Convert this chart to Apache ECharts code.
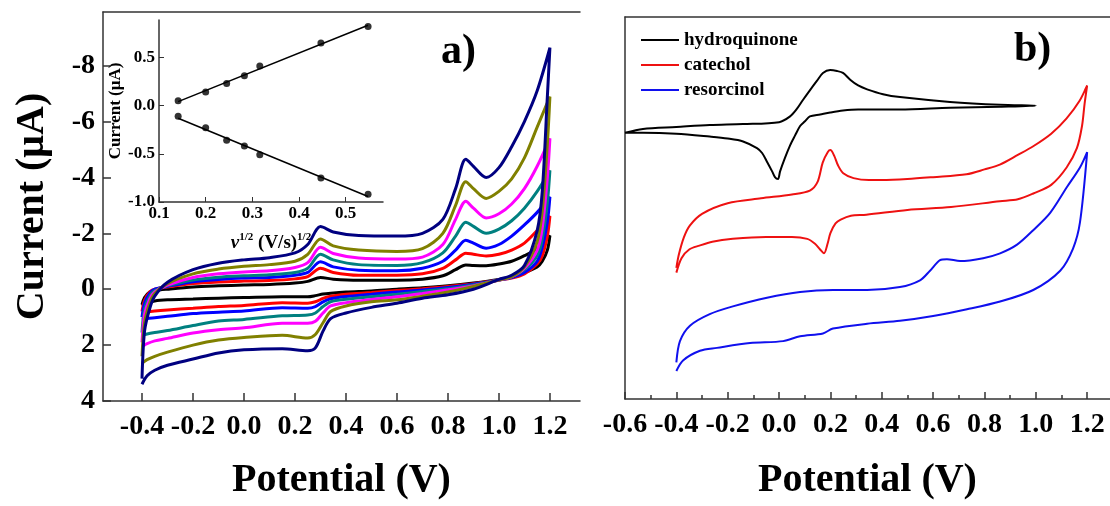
<!DOCTYPE html>
<html><head><meta charset="utf-8">
<script src="https://cdn.jsdelivr.net/npm/echarts@6/dist/echarts.min.js"></script>
<style>html,body{margin:0;padding:0;background:#fff}#c{width:1110px;height:506px}</style>
</head><body><div id="c"></div>
<script>
const FONT = '"Liberation Serif","Times New Roman",serif';

// ---------- Panel a: CVs at different scan rates ----------
const aTicksX = [-0.4, -0.2, 0.0, 0.2, 0.4, 0.6, 0.8, 1.0, 1.2];
const aTicksY = [-8, -6, -4, -2, 0, 2, 4];
const scanNames = ['20 mV/s', '40 mV/s', '60 mV/s', '80 mV/s', '100 mV/s', '200 mV/s', '300 mV/s'];
const scanColors = ['#000000', '#ff0000', '#0000ff', '#008080', '#ff00ff', '#808000', '#000080'];

const upX = [-0.4, -0.39, -0.37, -0.35, -0.3, -0.2, -0.1, 0.0, 0.1, 0.2, 0.25, 0.3, 0.35, 0.45, 0.6, 0.7, 0.78, 0.83, 0.87, 0.9, 0.95, 1.0, 1.05, 1.1, 1.15, 1.2];
const downX = [1.2, 1.19, 1.17, 1.15, 1.1, 1.05, 1.0, 0.9, 0.8, 0.7, 0.6, 0.5, 0.4, 0.34, 0.31, 0.28, 0.25, 0.15, 0.0, -0.1, -0.2, -0.3, -0.35, -0.38, -0.4];

const upBlack   = [0.55, 0.3, 0.1, 0.05, 0.0, -0.08, -0.12, -0.15, -0.17, -0.22, -0.28, -0.42, -0.36, -0.32, -0.32, -0.36, -0.48, -0.7, -0.87, -0.85, -0.84, -0.9, -1.0, -1.2, -1.45, -1.92];
const upRed     = [0.8, 0.4, 0.1, 0.0, -0.08, -0.2, -0.26, -0.29, -0.31, -0.37, -0.45, -0.75, -0.6, -0.5, -0.5, -0.55, -0.75, -1.05, -1.29, -1.25, -1.19, -1.25, -1.4, -1.65, -2.1, -2.62];
const upBlue    = [1.0, 0.5, 0.15, 0.0, -0.1, -0.27, -0.35, -0.4, -0.42, -0.5, -0.6, -0.98, -0.8, -0.68, -0.66, -0.75, -1.0, -1.4, -1.75, -1.65, -1.47, -1.6, -1.9, -2.3, -2.75, -3.3];
const upTeal    = [1.55, 0.7, 0.25, 0.05, -0.12, -0.33, -0.43, -0.48, -0.52, -0.6, -0.75, -1.25, -1.05, -0.88, -0.85, -0.95, -1.3, -1.9, -2.4, -2.25, -2.0, -2.15, -2.45, -2.9, -3.5, -4.25];
const upMagenta = [1.9, 0.9, 0.35, 0.1, -0.15, -0.42, -0.55, -0.62, -0.66, -0.78, -0.95, -1.5, -1.28, -1.12, -1.08, -1.15, -1.6, -2.5, -3.15, -2.9, -2.55, -2.7, -3.05, -3.6, -4.4, -5.4];
const upOlive   = [2.4, 1.2, 0.5, 0.15, -0.2, -0.55, -0.72, -0.82, -0.88, -1.0, -1.25, -1.8, -1.55, -1.4, -1.35, -1.45, -2.0, -3.0, -3.85, -3.6, -3.25, -3.5, -3.95, -4.7, -5.8, -6.89];
const upNavy    = [3.2, 1.5, 0.7, 0.25, -0.25, -0.7, -0.93, -1.05, -1.13, -1.3, -1.6, -2.24, -2.05, -1.92, -1.9, -2.0, -2.5, -3.6, -4.65, -4.4, -4.0, -4.35, -5.1, -6.0, -7.1, -8.64];

const downBlack   = [-1.92, -1.4, -1.0, -0.8, -0.6, -0.45, -0.35, -0.22, -0.12, -0.05, 0.0, 0.06, 0.1, 0.14, 0.17, 0.23, 0.27, 0.27, 0.3, 0.32, 0.35, 0.38, 0.42, 0.5, 0.6];
const downRed     = [-2.62, -1.9, -1.2, -0.9, -0.55, -0.4, -0.33, -0.2, -0.1, -0.02, 0.05, 0.12, 0.18, 0.25, 0.33, 0.45, 0.5, 0.48, 0.58, 0.62, 0.68, 0.74, 0.78, 0.82, 0.88];
const downBlue    = [-3.3, -2.4, -1.5, -1.0, -0.6, -0.42, -0.33, -0.18, -0.06, 0.03, 0.1, 0.18, 0.26, 0.34, 0.45, 0.62, 0.68, 0.66, 0.78, 0.82, 0.87, 0.97, 1.02, 1.05, 1.1];
const downTeal    = [-4.25, -3.1, -1.8, -1.2, -0.7, -0.45, -0.33, -0.15, -0.02, 0.08, 0.18, 0.27, 0.36, 0.45, 0.62, 0.85, 0.92, 0.95, 1.08, 1.14, 1.3, 1.48, 1.55, 1.6, 1.65];
const downMagenta = [-5.4, -4.0, -2.2, -1.4, -0.75, -0.45, -0.33, -0.12, 0.02, 0.15, 0.27, 0.37, 0.48, 0.6, 0.85, 1.15, 1.22, 1.22, 1.38, 1.45, 1.57, 1.76, 1.85, 1.95, 2.05];
const downOlive   = [-6.89, -5.2, -2.8, -1.7, -0.8, -0.45, -0.33, -0.1, 0.1, 0.25, 0.38, 0.45, 0.6, 0.8, 1.2, 1.62, 1.75, 1.65, 1.73, 1.82, 2.0, 2.25, 2.4, 2.52, 2.65];
const downNavy    = [-8.64, -6.9, -3.5, -2.1, -0.85, -0.5, -0.35, 0.0, 0.2, 0.32, 0.5, 0.65, 0.85, 1.05, 1.5, 2.1, 2.2, 2.13, 2.17, 2.28, 2.5, 2.72, 2.9, 3.1, 3.4];

const upAll = [upBlack, upRed, upBlue, upTeal, upMagenta, upOlive, upNavy];
const downAll = [downBlack, downRed, downBlue, downTeal, downMagenta, downOlive, downNavy];

// ---------- Inset: peak current vs sqrt(scan rate) ----------
const insetX = [0.141, 0.2, 0.245, 0.283, 0.316, 0.447, 0.548];
const insetAnodic = [0.05, 0.14, 0.23, 0.31, 0.41, 0.65, 0.82];
const insetCathodic = [-0.11, -0.23, -0.36, -0.42, -0.51, -0.75, -0.92];
const insetTicksX = [0.1, 0.2, 0.3, 0.4, 0.5];
const insetTicksY = [-1.0, -0.5, 0.0, 0.5];

// ---------- Panel b: three isomers (arbitrary vertical offsets, a.u.) ----------
const bTicksX = [-0.6, -0.4, -0.2, 0.0, 0.2, 0.4, 0.6, 0.8, 1.0, 1.2];
const bMinorX = [-0.5, -0.3, -0.1, 0.1, 0.3, 0.5, 0.7, 0.9, 1.1];

const hqFwdX = [-0.6, -0.53, -0.4, -0.27, -0.14, 0.0, 0.043, 0.07, 0.093, 0.12, 0.148, 0.171, 0.199, 0.226, 0.249, 0.277, 0.308, 0.343, 0.405, 0.471, 0.666, 0.861, 1.0];
const hqFwdY = [276, 280, 282, 284, 285, 287, 293, 301, 310, 320, 330, 338, 341, 340, 338, 331, 325, 321, 316, 313, 308, 305, 304];
const hqRevX = [1.0, 0.861, 0.666, 0.471, 0.308, 0.249, 0.199, 0.16, 0.12, 0.101, 0.082, 0.062, 0.043, 0.023, 0.004, -0.004, -0.016, -0.027, -0.047, -0.066, -0.086, -0.14, -0.2, -0.27, -0.4, -0.53, -0.6];
const hqRevY = [304, 303, 302, 300, 300, 299, 297, 295, 293, 288, 283, 273, 263, 250, 236, 228, 230, 236, 246, 255, 260, 267, 270, 272, 275, 276, 276];

const ccFwdX = [-0.4, -0.39, -0.37, -0.347, -0.3, -0.2, -0.07, 0.05, 0.12, 0.15, 0.17, 0.19, 0.2, 0.215, 0.23, 0.25, 0.29, 0.35, 0.4, 0.5, 0.6, 0.73, 0.8, 0.86, 0.93, 0.99, 1.06, 1.12, 1.17, 1.2];
const ccFwdY = [136, 150, 168, 180, 192, 203, 208, 212, 216, 225, 245, 256, 258, 252, 242, 234, 229, 227, 227, 228, 230, 233, 238, 243, 253, 262, 275, 291, 309, 325];
const ccRevX = [1.2, 1.19, 1.18, 1.16, 1.12, 1.06, 0.99, 0.93, 0.86, 0.67, 0.5, 0.34, 0.28, 0.24, 0.22, 0.2, 0.19, 0.175, 0.16, 0.14, 0.11, 0.05, -0.05, -0.18, -0.26, -0.31, -0.35, -0.38, -0.4];
const ccRevY = [325, 306, 283, 260, 240, 222, 213, 207, 205, 199, 196, 191, 190, 186, 182, 172, 162, 151, 155, 161, 166, 168, 168, 166, 163, 159, 155, 146, 131];

const rsFwdX = [-0.4, -0.386, -0.347, -0.27, -0.18, -0.047, 0.082, 0.21, 0.343, 0.471, 0.549, 0.588, 0.627, 0.654, 0.705, 0.795, 0.861, 0.927, 0.99, 1.056, 1.122, 1.172, 1.2];
const rsFwdY = [38, 60, 76, 88, 96, 105, 111, 113, 113, 116, 123, 133, 144, 145, 143, 146, 151, 160, 175, 193, 220, 240, 256];
const rsRevX = [1.2, 1.172, 1.145, 1.095, 0.99, 0.861, 0.732, 0.6, 0.471, 0.343, 0.21, 0.171, 0.082, 0.016, -0.113, -0.242, -0.308, -0.374, -0.4];
const rsRevY = [256, 183, 156, 133, 113, 101, 93, 86, 81, 78, 73, 68, 65, 60, 58, 53, 50, 40, 29];

const isomerNames = ['hydroquinone', 'catechol', 'resorcinol'];
const isomerColors = ['#000000', '#ee1111', '#1010ee'];

// ---------- build ----------
const pair = (xs, ys) => xs.map((x, i) => [x, ys[i]]);
const loop = (ux, uy, dx, dy) => pair(ux, uy).concat(pair(dx, dy));
function fit(xs, ys) {
  const n = xs.length;
  const mx = xs.reduce((a, b) => a + b, 0) / n, my = ys.reduce((a, b) => a + b, 0) / n;
  let sxy = 0, sxx = 0;
  for (let i = 0; i < n; i++) { sxy += (xs[i] - mx) * (ys[i] - my); sxx += (xs[i] - mx) ** 2; }
  const k = sxy / sxx, b = my - k * mx;
  const x0 = Math.min(...xs), x1 = Math.max(...xs);
  return [[x0, k * x0 + b], [x1, k * x1 + b]];
}

const axisLine = { show: true, onZero: false, lineStyle: { color: '#333', width: 1.5 } };
const lbl = (size) => ({ color: '#000', fontFamily: FONT, fontWeight: 'bold', fontSize: size });

const series = [];
upAll.forEach((u, i) => {
  series.push({
    name: scanNames[i], type: 'line', xAxisIndex: 0, yAxisIndex: 0,
    data: loop(upX, u, downX, downAll[i]), showSymbol: false, smooth: 0.3,
    lineStyle: { width: 3, color: scanColors[i] }, itemStyle: { color: scanColors[i] }, z: 3
  });
});
[insetAnodic, insetCathodic].forEach((ys) => {
  series.push({ type: 'line', xAxisIndex: 2, yAxisIndex: 1, data: fit(insetX, ys), showSymbol: false,
    lineStyle: { width: 1.5, color: '#000' }, z: 4 });
  series.push({ type: 'scatter', xAxisIndex: 2, yAxisIndex: 1, data: pair(insetX, ys), symbolSize: 7,
    itemStyle: { color: '#000' }, z: 5 });
});
const bLoops = [loop(hqFwdX, hqFwdY, hqRevX, hqRevY), loop(ccFwdX, ccFwdY, ccRevX, ccRevY), loop(rsFwdX, rsFwdY, rsRevX, rsRevY)];
bLoops.forEach((d, i) => {
  series.push({ name: isomerNames[i], type: 'line', xAxisIndex: 3, yAxisIndex: 2, data: d, showSymbol: false,
    smooth: 0.3, lineStyle: { width: 2, color: isomerColors[i] }, itemStyle: { color: isomerColors[i] }, z: 3 });
});

const option = {
  animation: false,
  backgroundColor: '#fff',
  grid: [
    { left: 103, top: 12, width: 477, height: 398 },
    { left: 159, top: 20, width: 224, height: 182 },
    { left: 625, top: 17, width: 485, height: 396 }
  ],
  xAxis: [
    { gridIndex: 0, type: 'value', min: -0.553, max: 1.318, position: 'bottom', axisLine,
      axisTick: { show: true, inside: true, length: 8, customValues: aTicksX, lineStyle: { color: '#333', width: 1.5 } },
      axisLabel: Object.assign(lbl(28), { customValues: aTicksX, formatter: v => v.toFixed(1), margin: 12 }),
      splitLine: { show: false },
      name: 'Potential (V)', nameLocation: 'middle', nameGap: 60, nameTextStyle: lbl(40) },
    { gridIndex: 0, type: 'value', min: -0.553, max: 1.318, position: 'top', axisLine,
      axisTick: { show: false }, axisLabel: { show: false }, splitLine: { show: false } },
    { gridIndex: 1, type: 'value', min: 0.1, max: 0.58, position: 'bottom', axisLine,
      axisTick: { show: true, inside: true, length: 5, customValues: insetTicksX, lineStyle: { color: '#333' } },
      axisLabel: Object.assign(lbl(17), { customValues: insetTicksX, formatter: v => v.toFixed(1), margin: 3 }),
      splitLine: { show: false },
      name: '{i|ν}{s|1/2}{n| (V/s)}{s|1/2}', nameLocation: 'middle', nameGap: 30,
      nameTextStyle: { rich: {
        i: { fontFamily: FONT, fontWeight: 'bold', fontStyle: 'italic', fontSize: 19, color: '#000' },
        n: { fontFamily: FONT, fontWeight: 'bold', fontSize: 19, color: '#000' },
        s: { fontFamily: FONT, fontWeight: 'bold', fontSize: 11, color: '#000', padding: [0, 0, 12, 0] }
      } } },
    { gridIndex: 2, type: 'value', min: -0.6, max: 1.289, position: 'bottom', axisLine,
      axisTick: { show: true, inside: true, length: 7, customValues: bTicksX, lineStyle: { color: '#333', width: 1.5 } },
      axisLabel: Object.assign(lbl(28), { customValues: bTicksX, formatter: v => v.toFixed(1), margin: 12 }),
      splitLine: { show: false },
      name: 'Potential (V)', nameLocation: 'middle', nameGap: 62, nameTextStyle: lbl(40) },
    { gridIndex: 2, type: 'value', min: -0.6, max: 1.289, position: 'top', axisLine,
      axisTick: { show: false }, axisLabel: { show: false }, splitLine: { show: false } },
    { gridIndex: 2, type: 'value', min: -0.6, max: 1.289, position: 'bottom', axisLine: { show: false, onZero: false },
      axisTick: { show: true, inside: true, length: 4, customValues: bMinorX, lineStyle: { color: '#333', width: 1.5 } },
      axisLabel: { show: false }, splitLine: { show: false } }
  ],
  yAxis: [
    { gridIndex: 0, type: 'value', min: -9.92, max: 4, inverse: true, position: 'left', axisLine,
      axisTick: { show: true, inside: true, length: 8, customValues: aTicksY, lineStyle: { color: '#333', width: 1.5 } },
      axisLabel: Object.assign(lbl(28), { customValues: aTicksY, margin: 8 }),
      splitLine: { show: false },
      name: 'Current (μA)', nameLocation: 'middle', nameRotate: 90, nameGap: 50, nameTextStyle: lbl(40) },
    { gridIndex: 1, type: 'value', min: -1.0, max: 0.888, position: 'left', axisLine,
      axisTick: { show: true, inside: true, length: 5, customValues: insetTicksY, lineStyle: { color: '#333' } },
      axisLabel: Object.assign(lbl(17), { customValues: insetTicksY, formatter: v => v.toFixed(1), margin: 4 }),
      splitLine: { show: false },
      name: 'Current (μA)', nameLocation: 'middle', nameRotate: 90, nameGap: 32, nameTextStyle: lbl(17) },
    { gridIndex: 2, type: 'value', min: 0, max: 396, position: 'left', axisLine,
      axisTick: { show: false }, axisLabel: { show: false }, splitLine: { show: false } }
  ],
  legend: {
    data: isomerNames, orient: 'vertical', left: 636, top: 25, icon: 'rect', itemWidth: 38, itemHeight: 2, itemGap: 5,
    textStyle: Object.assign(lbl(19), { lineHeight: 20 })
  },
  graphic: [
    { type: 'text', left: 441, top: 31, style: { text: 'a)', font: 'bold 42px "Liberation Serif"', fill: '#000' } },
    { type: 'text', left: 1014, top: 29, style: { text: 'b)', font: 'bold 42px "Liberation Serif"', fill: '#000' } }
  ],
  series
};
const chart = echarts.init(document.getElementById('c'));
chart.setOption(option);
</script>
</body></html>
